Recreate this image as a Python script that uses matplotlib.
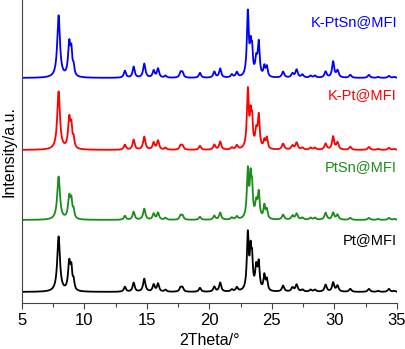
import numpy as np
import matplotlib.pyplot as plt

plt.rcParams['font.family'] = ['Liberation Sans', 'DejaVu Sans']

# Peak list shared by all four patterns (2theta, degrees) and peak widths (FWHM)
peak_pos = [7.95, 8.80, 8.97, 9.15, 13.25, 13.95, 14.80, 15.55, 15.90, 16.50,
            17.70, 17.85, 19.25, 20.40, 20.87, 21.80, 22.20, 23.08, 23.30, 23.42,
            23.75, 23.95, 24.40, 24.60, 25.90, 26.65, 26.98, 27.45, 28.10, 28.45,
            29.30, 29.90, 30.25, 31.27, 32.76, 33.50, 34.36, 34.80]
peak_fwhm = [0.26, 0.22, 0.16, 0.16, 0.2, 0.2, 0.22, 0.2, 0.2, 0.2,
             0.2, 0.2, 0.2, 0.2, 0.2, 0.2, 0.2, 0.18, 0.15, 0.15,
             0.2, 0.18, 0.17, 0.17, 0.22, 0.22, 0.22, 0.22, 0.22, 0.22,
             0.22, 0.2, 0.22, 0.22, 0.22, 0.22, 0.22, 0.22]

# Peak intensities of each sample (a.u.)
h_pt = [55, 28, 19, 9, 5, 9, 13, 7, 8, 2,
        4, 4, 4, 5, 9, 2, 4, 56, 34, 27,
        22, 26, 15, 11, 6, 4, 7, 2, 2, 2,
        7, 9, 6, 3, 3, 1, 3, 1]
h_ptsn = [43, 22, 16, 8, 4, 8, 11, 6, 7, 2,
          4, 4, 3, 4, 7, 2, 3, 48, 36, 27,
          15, 25, 13, 9, 5, 4, 6, 2, 2, 2,
          7, 7, 5, 2, 2, 1, 2, 1]
h_kpt = [58, 30, 19, 9, 5, 10, 13, 7, 9, 2,
         4, 4, 4, 5, 8, 2, 4, 58, 28, 25,
         16, 32, 8, 11, 6, 4, 7, 2, 2, 2,
         6, 13, 7, 3, 3, 1, 2, 1]
h_kptsn = [62, 33, 22, 9, 7, 11, 14, 7, 9, 2,
           5, 5, 5, 6, 9, 3, 5, 64, 25, 23,
           16, 33, 10, 10, 6, 4, 8, 3, 2, 2,
           6, 16, 7, 3, 3, 1, 2, 1]

samples = ['Pt@MFI', 'PtSn@MFI', 'K-Pt@MFI', 'K-PtSn@MFI']
heights = [h_pt, h_ptsn, h_kpt, h_kptsn]
offsets = [11, 83, 153, 225]
colors = ['#000000', '#1a8c1a', '#ff0000', '#0000ff']
label_y = [63, 136, 208, 281]

two_theta = np.linspace(5, 35, 3001)


def pattern(h):
    y = np.zeros_like(two_theta)
    for p, w, a in zip(peak_pos, peak_fwhm, h):
        y += a / (1 + ((two_theta - p) / (w / 2)) ** 2)
    return y


fig = plt.figure(figsize=(4.05, 3.49), dpi=100)
ax = fig.add_axes([0.0536, 0.1318, 0.9264, 0.8682])

for name, h, off, c, ly in zip(samples, heights, offsets, colors, label_y):
    ax.plot(two_theta, pattern(h) + off, color=c, lw=1.3)
    ax.text(35, ly, name, color=c, fontsize=10.5, ha='right', va='center')

ax.set_xlim(5, 35)
ax.set_ylim(0, 303)
ax.set_xticks(np.arange(5, 36, 5))
ax.set_xticks(np.arange(7.5, 35, 5), minor=True)
ax.set_yticks([])
ax.tick_params(axis='x', which='major', length=4, width=0.8, labelsize=12, color='#444444')
ax.tick_params(axis='x', which='minor', length=3, width=0.8, color='#444444')
for s in ['top', 'right']:
    ax.spines[s].set_visible(False)
for s in ['left', 'bottom']:
    ax.spines[s].set_color('#444444')
    ax.spines[s].set_linewidth(0.8)

ax.set_xlabel('2Theta/°', fontsize=11.5, labelpad=3)
ax.set_ylabel('Intensity/a.u.', fontsize=11.5, labelpad=4)

fig.savefig('out.png', dpi=100)
